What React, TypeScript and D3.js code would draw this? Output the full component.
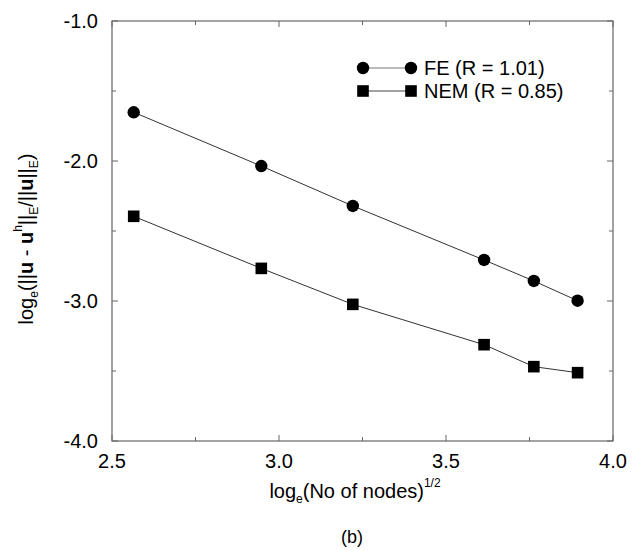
import React from "react";
import * as d3 from "d3";

const xNodes = [2.565, 2.947, 3.221, 3.614, 3.763, 3.894];
const feValues = [-1.652, -2.036, -2.321, -2.707, -2.857, -2.998];
const nemValues = [-2.395, -2.767, -3.024, -3.312, -3.469, -3.512];
const xMajorTicks = [2.5, 3.0, 3.5, 4.0];
const xMinorTicks = [2.75, 3.25, 3.75];
const yMajorTicks = [-1.0, -2.0, -3.0, -4.0];
const yMinorTicks = [-1.5, -2.5, -3.5];
const legendLabels = ["FE (R = 1.01)", "NEM (R = 0.85)"];

const W = 632;
const H = 550;
const M = { left: 112, right: 613, top: 21, bottom: 441 };
const FONT = "'Liberation Sans', Arial, Helvetica, sans-serif";

export default function App() {
  const x = d3.scaleLinear().domain([2.5, 4.0]).range([M.left, M.right]);
  const y = d3.scaleLinear().domain([-4.0, -1.0]).range([M.bottom, M.top]);
  const line = d3
    .line<[number, number]>()
    .x((d) => x(d[0]))
    .y((d) => y(d[1]));
  const fe: [number, number][] = xNodes.map((v, i) => [v, feValues[i]]);
  const nem: [number, number][] = xNodes.map((v, i) => [v, nemValues[i]]);
  const axisColor = "#666";
  const maj = 6;
  const min = 4;

  return (
    <svg
      width={W}
      height={H}
      style={{ position: "absolute", left: 0, top: 0, background: "#fff" }}
      fontFamily={FONT}
    >
      <rect x={0} y={0} width={W} height={H} fill="#fff" />
      {/* frame */}
      <rect
        x={M.left}
        y={M.top}
        width={M.right - M.left}
        height={M.bottom - M.top}
        fill="none"
        stroke={axisColor}
        strokeWidth={1.2}
      />
      {/* x ticks */}
      {xMajorTicks.map((t) => (
        <g key={"xm" + t}>
          <line x1={x(t)} x2={x(t)} y1={M.bottom} y2={M.bottom - maj} stroke={axisColor} />
          <line x1={x(t)} x2={x(t)} y1={M.top} y2={M.top + maj} stroke={axisColor} />
          <text x={x(t)} y={468} fontSize={20} textAnchor="middle" fill="#000">
            {t.toFixed(1)}
          </text>
        </g>
      ))}
      {xMinorTicks.map((t) => (
        <g key={"xn" + t}>
          <line x1={x(t)} x2={x(t)} y1={M.bottom} y2={M.bottom - min} stroke={axisColor} />
          <line x1={x(t)} x2={x(t)} y1={M.top} y2={M.top + min} stroke={axisColor} />
        </g>
      ))}
      {/* y ticks */}
      {yMajorTicks.map((t) => (
        <g key={"ym" + t}>
          <line x1={M.left} x2={M.left + maj} y1={y(t)} y2={y(t)} stroke={axisColor} />
          <line x1={M.right} x2={M.right - maj} y1={y(t)} y2={y(t)} stroke={axisColor} />
          <text x={98} y={y(t) + 7} fontSize={20} textAnchor="end" fill="#000">
            {t.toFixed(1)}
          </text>
        </g>
      ))}
      {yMinorTicks.map((t) => (
        <g key={"yn" + t}>
          <line x1={M.left} x2={M.left + min} y1={y(t)} y2={y(t)} stroke={axisColor} />
          <line x1={M.right} x2={M.right - min} y1={y(t)} y2={y(t)} stroke={axisColor} />
        </g>
      ))}
      {/* data lines */}
      <path d={line(fe) || ""} fill="none" stroke="#333" strokeWidth={1} />
      <path d={line(nem) || ""} fill="none" stroke="#333" strokeWidth={1} />
      {fe.map((d, i) => (
        <circle key={"fe" + i} cx={x(d[0])} cy={y(d[1])} r={6.2} fill="#000" />
      ))}
      {nem.map((d, i) => (
        <rect
          key={"nem" + i}
          x={x(d[0]) - 5.8}
          y={y(d[1]) - 5.8}
          width={11.6}
          height={11.6}
          fill="#000"
        />
      ))}
      {/* legend */}
      <g>
        <line x1={363} x2={411} y1={68} y2={68} stroke="#777" strokeWidth={1} />
        <circle cx={363} cy={68} r={6.2} fill="#000" />
        <circle cx={411} cy={68} r={6.2} fill="#000" />
        <text x={424} y={75} fontSize={20} fill="#000">
          {legendLabels[0]}
        </text>
        <line x1={363} x2={411} y1={91} y2={91} stroke="#444" strokeWidth={1} />
        <rect x={357.2} y={85.2} width={11.6} height={11.6} fill="#000" />
        <rect x={405.2} y={85.2} width={11.6} height={11.6} fill="#000" />
        <text x={424} y={98} fontSize={20} fill="#000">
          {legendLabels[1]}
        </text>
      </g>
      {/* x axis title */}
      <text x={355} y={498} fontSize={20} textAnchor="middle" fill="#000">
        <tspan>log</tspan>
        <tspan fontSize={12} dy={5}>e</tspan>
        <tspan dy={-5}>(No of nodes)</tspan>
        <tspan fontSize={12} dy={-11}>1/2</tspan>
      </text>
      {/* y axis title */}
      <text
        transform={`translate(33, ${(M.top + M.bottom) / 2 + 8}) rotate(-90)`}
        fontSize={20}
        textAnchor="middle"
        fill="#000"
      >
        <tspan>log</tspan>
        <tspan fontSize={12} dy={5}>e</tspan>
        <tspan dy={-5}>(||</tspan>
        <tspan fontWeight="bold">u</tspan>
        <tspan> - </tspan>
        <tspan fontWeight="bold">u</tspan>
        <tspan fontSize={12} dy={-11}>h</tspan>
        <tspan dy={11}>||</tspan>
        <tspan fontSize={12} dy={5}>E</tspan>
        <tspan dy={-5}>/||</tspan>
        <tspan fontWeight="bold">u</tspan>
        <tspan>||</tspan>
        <tspan fontSize={12} dy={5}>E</tspan>
        <tspan dy={-5}>)</tspan>
      </text>
      {/* caption */}
      <text x={352} y={543} fontSize={18} textAnchor="middle" fill="#000">
        (b)
      </text>
    </svg>
  );
}
